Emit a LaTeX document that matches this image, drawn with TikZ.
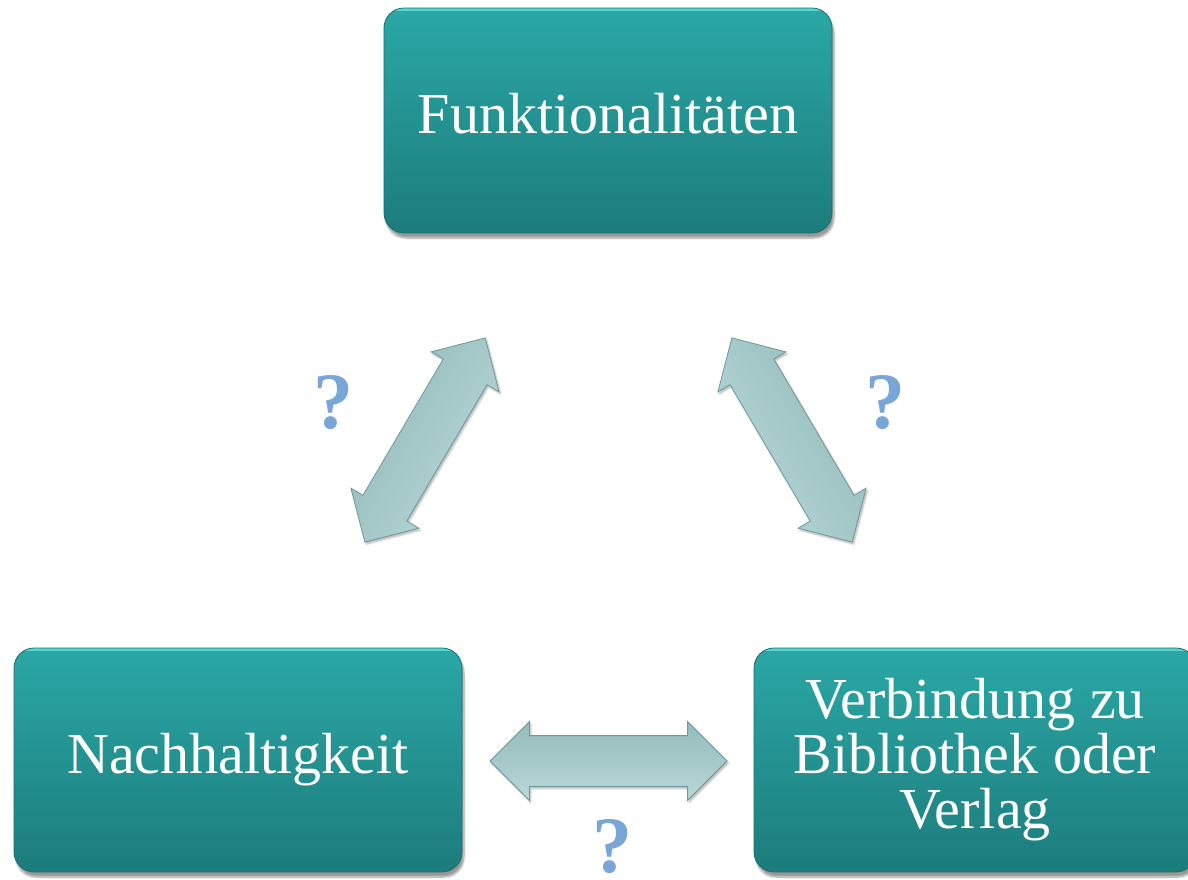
\documentclass[tikz,border=0pt]{standalone}
\usepackage{fontspec}
\setmainfont{Liberation Serif}
\usetikzlibrary{shapes.arrows,shadows.blur}
\definecolor{boxtop}{HTML}{2AA8A6}
\definecolor{boxbot}{HTML}{1D7C7C}
\definecolor{boxedge}{HTML}{1A6E6E}
\definecolor{boxhi}{HTML}{6FE8E6}
\definecolor{arrtop}{HTML}{96BCBC}
\definecolor{arrmid}{HTML}{A5C8C8}
\definecolor{arrbot}{HTML}{BBDADA}
\definecolor{arredge}{HTML}{6E9898}
\definecolor{qcol}{HTML}{7AA6D7}
\tikzset{
  tealbox/.style={rectangle, rounded corners=20pt, top color=boxtop, bottom color=boxbot,
    draw=boxedge, line width=0.8pt, text=white, align=center,
    font=\fontsize{58}{55}\selectfont,
    blur shadow={shadow xshift=2pt, shadow yshift=-5pt, shadow blur steps=8, shadow opacity=40},
    path picture={\draw[boxhi, line width=4pt, opacity=.7]
      ([yshift=-1pt]path picture bounding box.north west) -- ([yshift=-1pt]path picture bounding box.north east);}},
  dblarr/.style={double arrow, inner xsep=0pt, inner ysep=25pt, double arrow head extend=14pt,
    double arrow tip angle=90, minimum height=237pt, minimum width=78pt,
    top color=arrtop, bottom color=arrbot, middle color=arrmid, draw=arredge, line width=0.8pt,
    blur shadow={shadow xshift=1.5pt, shadow yshift=-2pt, shadow blur steps=6, shadow opacity=30}},
  qmark/.style={text=qcol, font=\fontsize{80}{80}\selectfont\bfseries, inner sep=0pt}
}
\begin{document}
\begin{tikzpicture}[x=1pt,y=-1pt]
\useasboundingbox (0,0) rectangle (1188,879);
\node[tealbox, minimum width=448pt, minimum height=225pt, text depth=14pt] (funk) at (608,120.5) {Funktionalitäten};
\node[tealbox, minimum width=448pt, minimum height=224pt] (nach) at (238,760) {Nachhaltigkeit};
\node[tealbox, minimum width=442pt, minimum height=224pt] (verb) at (975,760) {Verbindung zu\\Bibliothek oder\\Verlag};
\node[dblarr, rotate=59.5, shading angle=59.5] (a1) at (425,440) {};
\node[dblarr, rotate=-59.5, shading angle=-59.5] (a2) at (792,440) {};
\node[dblarr] (a3) at (608.5,761) {};
\node[qmark] (q1) at (333,403) {?};
\node[qmark] (q2) at (885,403) {?};
\node[qmark, anchor=base] (q3) at (612,872) {?};
\end{tikzpicture}
\end{document}
